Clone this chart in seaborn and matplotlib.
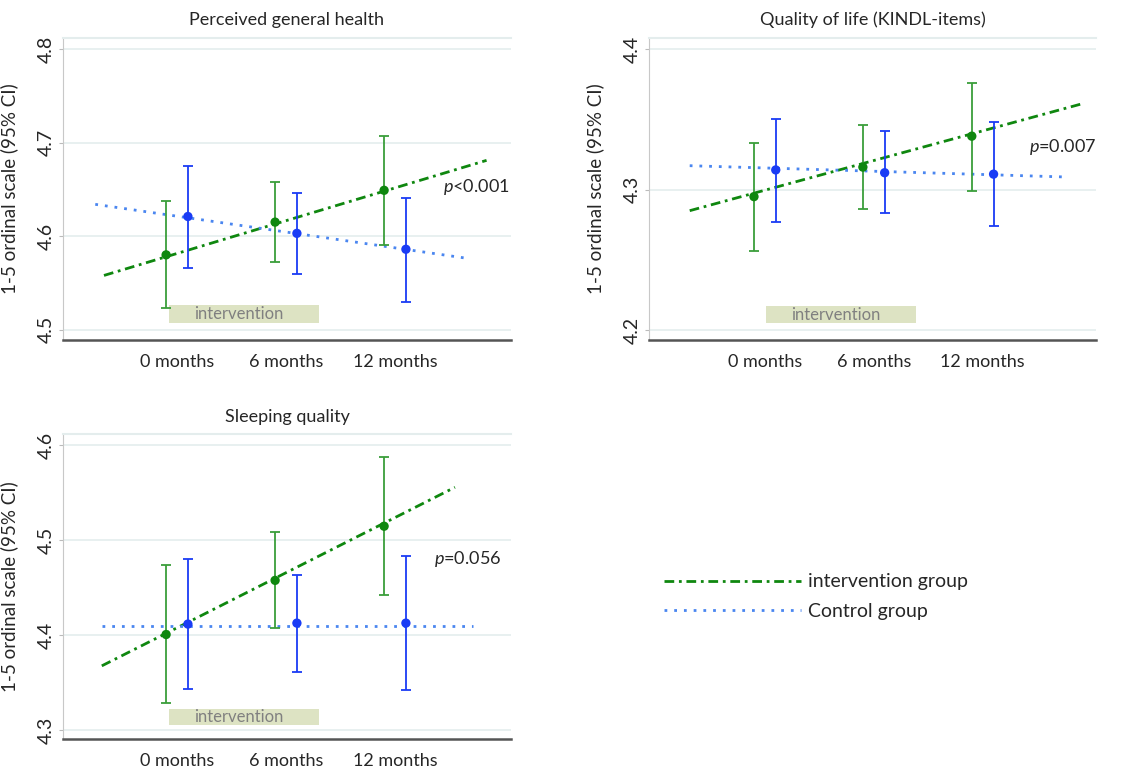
import numpy as np
import pandas as pd
import matplotlib.pyplot as plt
import seaborn as sns

# categories / labels
months = ["0 months", "6 months", "12 months"]
month_pos = [0, 1, 2]
titles = ["Perceived general health", "Quality of life (KINDL-items)", "Sleeping quality"]
p_labels = ["$p$<0.001", "$p$=0.007", "$p$=0.056"]

# Perceived general health
health_int = [4.580, 4.615, 4.649]
health_int_lo = [4.523, 4.572, 4.591]
health_int_hi = [4.638, 4.658, 4.707]
health_ctl = [4.621, 4.603, 4.586]
health_ctl_lo = [4.566, 4.560, 4.530]
health_ctl_hi = [4.675, 4.646, 4.641]
health_int_trend_x = [-0.67, 2.84]
health_int_trend_y = [4.558, 4.681]
health_ctl_trend_x = [-0.75, 2.68]
health_ctl_trend_y = [4.634, 4.576]

# Quality of life
qol_int = [4.295, 4.316, 4.338]
qol_int_lo = [4.256, 4.286, 4.299]
qol_int_hi = [4.333, 4.346, 4.376]
qol_ctl = [4.314, 4.312, 4.311]
qol_ctl_lo = [4.277, 4.283, 4.274]
qol_ctl_hi = [4.350, 4.342, 4.348]
qol_int_trend_x = [-0.69, 2.91]
qol_int_trend_y = [4.285, 4.361]
qol_ctl_trend_x = [-0.69, 2.75]
qol_ctl_trend_y = [4.317, 4.309]

# Sleeping quality
sleep_int = [4.401, 4.458, 4.515]
sleep_int_lo = [4.329, 4.408, 4.443]
sleep_int_hi = [4.474, 4.509, 4.588]
sleep_ctl = [4.412, 4.413, 4.413]
sleep_ctl_lo = [4.344, 4.362, 4.343]
sleep_ctl_hi = [4.481, 4.464, 4.484]
sleep_int_trend_x = [-0.69, 2.55]
sleep_int_trend_y = [4.368, 4.556]
sleep_ctl_trend_x = [-0.69, 2.72]
sleep_ctl_trend_y = [4.410, 4.410]

# intervention period boxes (x range, y range)
box_x = [[-0.07, 1.30], [0.01, 1.39], [-0.07, 1.30]]
box_y = [[4.507, 4.526], [4.205, 4.217], [4.306, 4.323]]

yticks = [[4.5, 4.6, 4.7, 4.8], [4.2, 4.3, 4.4], [4.3, 4.4, 4.5, 4.6]]
ylims = [(4.489, 4.812), (4.193, 4.408), (4.291, 4.612)]
xlims = [(-1.046, 3.064), (-1.064, 3.04), (-1.046, 3.064)]
p_pos = [(0.998, 4.653), (1.0, 4.330), (0.978, 4.481)]

panels = [
    (health_int, health_int_lo, health_int_hi, health_ctl, health_ctl_lo, health_ctl_hi,
     health_int_trend_x, health_int_trend_y, health_ctl_trend_x, health_ctl_trend_y),
    (qol_int, qol_int_lo, qol_int_hi, qol_ctl, qol_ctl_lo, qol_ctl_hi,
     qol_int_trend_x, qol_int_trend_y, qol_ctl_trend_x, qol_ctl_trend_y),
    (sleep_int, sleep_int_lo, sleep_int_hi, sleep_ctl, sleep_ctl_lo, sleep_ctl_hi,
     sleep_int_trend_x, sleep_int_trend_y, sleep_ctl_trend_x, sleep_ctl_trend_y),
]

sns.set_style("white")
plt.rcParams["font.family"] = ["Lato", "DejaVu Sans"]
plt.rcParams["mathtext.fontset"] = "custom"
plt.rcParams["mathtext.it"] = "Lato:italic"
plt.rcParams["mathtext.rm"] = "Lato"

green = "#0f870f"
green_ci = "#3a9e3a"
blue = "#1a3cf5"
blue_trend = "#4a86f0"
int_style = (0, (3.5, 1.7, 1, 1.7))
ctl_style = (0, (1, 2.5))

fig = plt.figure(figsize=(11.33, 7.71), dpi=100)
rects = [
    [0.0556, 0.559, 0.3954, 0.392],
    [0.5728, 0.559, 0.3945, 0.392],
    [0.0556, 0.0415, 0.3954, 0.3955],
]

off = 0.1
for i, (rect, data) in enumerate(zip(rects, panels)):
    ax = fig.add_axes(rect)
    (g, g_lo, g_hi, c, c_lo, c_hi, gtx, gty, ctx, cty) = data
    xg = [m - off for m in month_pos]
    xc = [m + off for m in month_pos]

    ax.set_yticks(yticks[i])
    ax.set_yticklabels([f"{t:.1f}" for t in yticks[i]], rotation=90, va="center")
    ax.grid(axis="y", color="#e4eded", lw=1.2)
    ax.set_axisbelow(True)

    # intervention box
    ax.fill_between(box_x[i], box_y[i][0], box_y[i][1], color="#dde3c3", lw=0, zorder=1)
    ax.text(np.mean(box_x[i]) - 0.05, np.mean(box_y[i]), "intervention", color="#808080",
            fontsize=12, ha="center", va="center", zorder=2)

    # trend lines
    trend = pd.DataFrame({"x": gtx, "y": gty})
    sns.lineplot(data=trend, x="x", y="y", ax=ax, color=green, lw=2,
                 linestyle=int_style, zorder=3)
    trend = pd.DataFrame({"x": ctx, "y": cty})
    sns.lineplot(data=trend, x="x", y="y", ax=ax, color=blue_trend, lw=2,
                 linestyle=ctl_style, zorder=3)

    # CIs
    g_arr, c_arr = np.array(g), np.array(c)
    ax.errorbar(xg, g, yerr=[g_arr - np.array(g_lo), np.array(g_hi) - g_arr], fmt="none",
                ecolor=green_ci, elinewidth=1.3, capsize=3.5, capthick=1.3, zorder=4)
    ax.errorbar(xc, c, yerr=[c_arr - np.array(c_lo), np.array(c_hi) - c_arr], fmt="none",
                ecolor=blue, elinewidth=1.3, capsize=3.5, capthick=1.3, zorder=4)
    pts = pd.DataFrame({"x": xg + xc, "y": list(g) + list(c),
                        "group": ["int"] * 3 + ["ctl"] * 3})
    sns.scatterplot(data=pts, x="x", y="y", hue="group",
                    palette={"int": green, "ctl": blue}, s=45, edgecolor="none",
                    legend=False, ax=ax, zorder=5)

    ax.text(p_pos[i][0], p_pos[i][1], p_labels[i], transform=ax.get_yaxis_transform(),
            ha="right", va="center", fontsize=13)

    ax.set_xlim(xlims[i])
    ax.set_ylim(ylims[i])
    ax.set_xticks(month_pos)
    ax.set_xticklabels(months)
    ax.set_xlabel("")
    ax.set_ylabel("1-5 ordinal scale (95% CI)", fontsize=13.5)
    ax.yaxis.set_label_coords(-0.1, 0.5)
    ax.set_title(titles[i], fontsize=13, pad=9)
    ax.tick_params(axis="x", direction="inout", length=6, width=1.2, color="#555555",
                   labelsize=13, pad=7)
    ax.tick_params(axis="y", left=True, direction="out", length=3, color="#bbbbbb",
                   labelsize=14, pad=3)
    ax.spines["right"].set_visible(False)
    ax.spines["top"].set_color("#e4eded")
    ax.spines["top"].set_linewidth(1.5)
    ax.spines["left"].set_color("#c8c8c8")
    ax.spines["bottom"].set_color("#555555")
    ax.spines["bottom"].set_linewidth(1.8)

# legend
handles = [
    plt.Line2D([], [], color=green, lw=2, linestyle=int_style),
    plt.Line2D([], [], color=blue_trend, lw=2, linestyle=ctl_style),
]
fig.legend(handles, ["intervention group", "Control group"], loc="center left",
           bbox_to_anchor=(0.571, 0.226), frameon=False, fontsize=14, handlelength=7.0,
           handletextpad=0.4, labelspacing=0.65)

fig.savefig("out.png", dpi=100)
